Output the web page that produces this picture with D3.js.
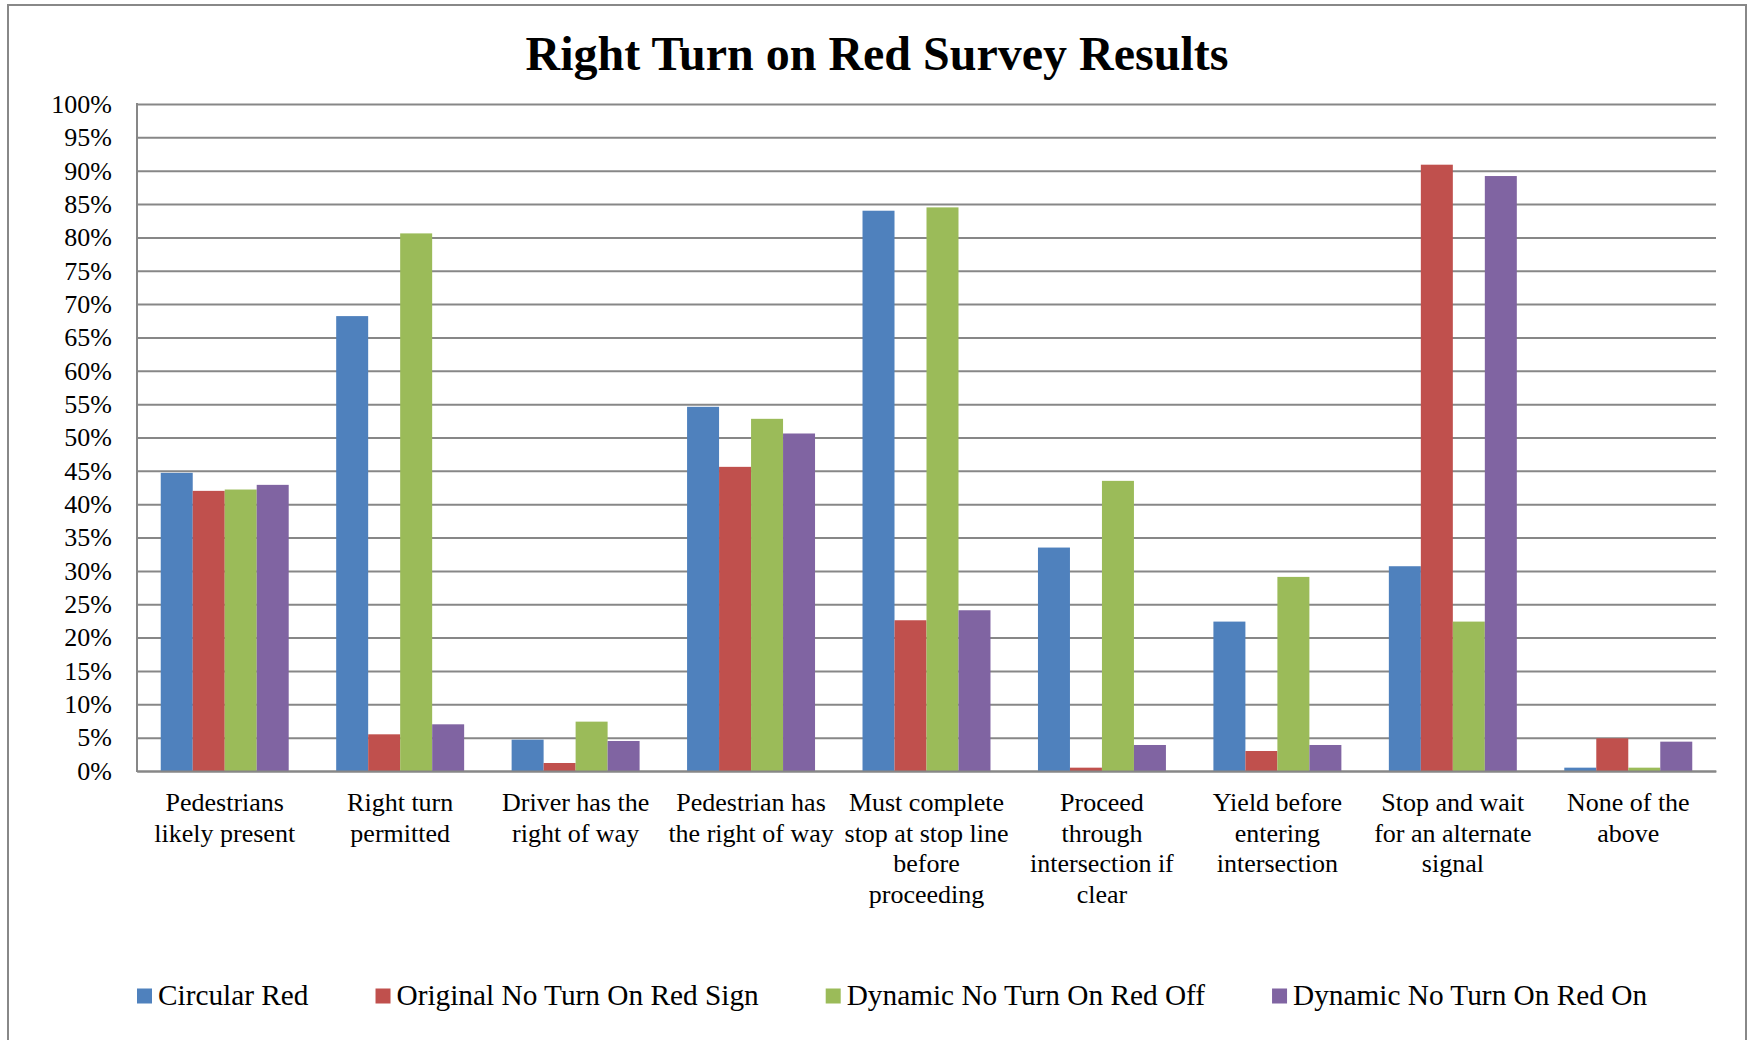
<!DOCTYPE html>
<html lang="en">
<head>
    <meta charset="UTF-8">
    <title>Right Turn on Red Survey Results</title>
    <script src="https://d3js.org/d3.v7.min.js"></script>
    <style>
        body { margin: 0; background: #fff; }
        svg text { font-family: "Liberation Serif", "Times New Roman", serif; fill: #000; }
    </style>
</head>
<body>
    <svg width="1754" height="1040"></svg>
    <script>

// Categories, one array of lines per label (as wrapped in the chart)
const categories = [
    ["Pedestrians", "likely present"],
    ["Right turn", "permitted"],
    ["Driver has the", "right of way"],
    ["Pedestrian has", "the right of way"],
    ["Must complete", "stop at stop line", "before", "proceeding"],
    ["Proceed", "through", "intersection if", "clear"],
    ["Yield before", "entering", "intersection"],
    ["Stop and wait", "for an alternate", "signal"],
    ["None of the", "above"]
];

const seriesNames = [
    "Circular Red",
    "Original No Turn On Red Sign",
    "Dynamic No Turn On Red Off",
    "Dynamic No Turn On Red On"
];

// percent values per series, in category order
const circularRed   = [44.7, 68.2, 4.7, 54.6, 84.0, 33.5, 22.4, 30.7, 0.5];
const originalSign  = [42.0, 5.5, 1.2, 45.6, 22.6, 0.5, 3.0, 90.9, 4.9];
const dynamicOff    = [42.2, 80.6, 7.4, 52.8, 84.5, 43.5, 29.1, 22.4, 0.5];
const dynamicOn     = [42.9, 7.0, 4.5, 50.6, 24.1, 3.9, 3.9, 89.2, 4.4];

const yTicks = d3.range(0, 101, 5);

const colors = ["#4F81BD", "#C0504D", "#9BBB59", "#8064A2"];

const seriesValues = [circularRed, originalSign, dynamicOff, dynamicOn];
const data = categories.map((c, i) => ({
    key: i,
    values: seriesValues.map((s, j) => ({ series: j, value: s[i] }))
}));

const svg = d3.select("svg");

// outer frame
svg.append("rect")
    .attr("x", 8).attr("y", 5)
    .attr("width", 1738).attr("height", 1045)
    .attr("fill", "#fff")
    .attr("stroke", "#888")
    .attr("stroke-width", 2);

svg.append("text")
    .attr("x", 877).attr("y", 70)
    .attr("text-anchor", "middle")
    .attr("font-size", 48)
    .attr("font-weight", "bold")
    .text("Right Turn on Red Survey Results");

const plot = { left: 137, right: 1716, top: 104, bottom: 771 };

const x0 = d3.scaleBand()
    .domain(data.map(d => d.key))
    .range([plot.left, plot.right])
    .paddingInner(0.2706)
    .paddingOuter(0.1353);

const x1 = d3.scaleBand()
    .domain(d3.range(seriesNames.length))
    .range([0, x0.bandwidth()]);

const y = d3.scaleLinear()
    .domain([0, 100])
    .range([plot.bottom, plot.top]);

// gridlines + y labels
const yAxis = svg.append("g")
    .attr("transform", `translate(${plot.left},0)`)
    .call(d3.axisLeft(y)
        .tickValues(yTicks)
        .tickSize(-(plot.right - plot.left))
        .tickPadding(25)
        .tickFormat(d => d + "%"));

yAxis.select(".domain").remove();
yAxis.selectAll(".tick line")
    .attr("stroke", "#878787")
    .attr("stroke-width", 2);
yAxis.selectAll(".tick text")
    .attr("font-size", 26)
    .attr("font-family", "Liberation Serif, serif")
    .attr("fill", "#000");

// bars
const groups = svg.append("g")
    .selectAll("g")
    .data(data)
    .join("g")
    .attr("transform", d => `translate(${x0(d.key)},0)`);

groups.selectAll("rect")
    .data(d => d.values)
    .join("rect")
    .attr("x", d => x1(d.series))
    .attr("y", d => y(d.value))
    .attr("width", x1.bandwidth())
    .attr("height", d => y(0) - y(d.value))
    .attr("fill", d => colors[d.series]);

// left axis line
svg.append("line")
    .attr("x1", plot.left).attr("x2", plot.left)
    .attr("y1", plot.top - 1).attr("y2", plot.bottom + 1)
    .attr("stroke", "#878787")
    .attr("stroke-width", 2);

// category labels
const xAxis = svg.append("g")
    .attr("transform", `translate(0,${plot.bottom})`)
    .call(d3.axisBottom(x0).tickSize(0).tickFormat(""));
xAxis.select(".domain")
    .attr("stroke", "#878787")
    .attr("stroke-width", 2);

xAxis.selectAll(".tick text").remove();
xAxis.selectAll(".tick")
    .append("text")
    .attr("text-anchor", "middle")
    .attr("font-size", 26)
    .selectAll("tspan")
    .data(d => categories[d])
    .join("tspan")
    .attr("x", 0)
    .attr("y", (d, i) => 40 + i * 30.5)
    .text(d => d);

// legend
const legend = svg.append("g").attr("transform", "translate(137,996)");
let lx = 0;
seriesNames.forEach((name, i) => {
    const item = legend.append("g").attr("transform", `translate(${lx},0)`);
    item.append("rect")
        .attr("x", 0).attr("y", -7.5)
        .attr("width", 15).attr("height", 15)
        .attr("fill", colors[i]);
    const t = item.append("text")
        .attr("x", 21).attr("y", 9)
        .attr("font-size", 29.3)
        .text(name);
    lx += 21 + t.node().getComputedTextLength() + 67;
});

    </script>
</body>
</html>
